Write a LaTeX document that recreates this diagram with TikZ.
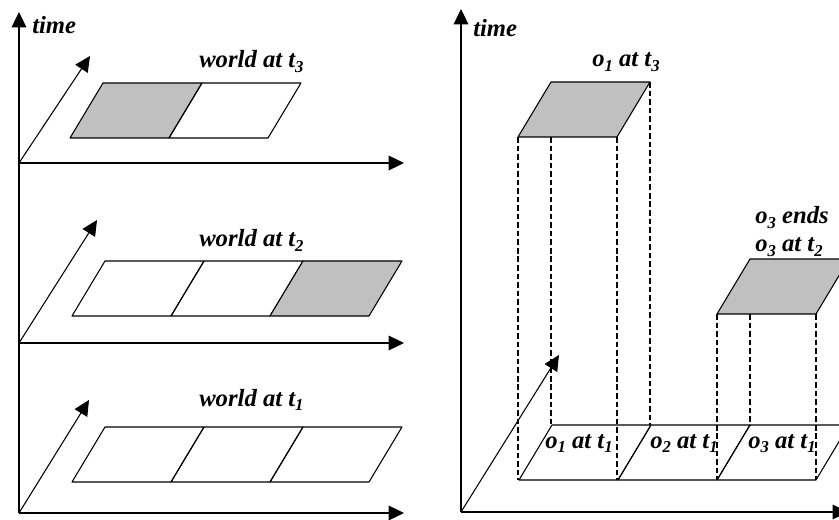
\documentclass[tikz,border=0pt]{standalone}
\usepackage{fontspec}
\setmainfont{Liberation Serif}
\usetikzlibrary{arrows.meta}
\definecolor{shadegray}{HTML}{C0C0C0}
% lowered subscript digit in text
\newcommand\sbs[1]{\raisebox{-0.2em}{\fontsize{12.5}{12.5}\selectfont #1}}
% one slanted cell: bottom-left corner x, bottom y, style
\newcommand\cellat[3]{\path[#3] (#1,#2) -- ++(99,0) -- ++(33,-55) -- ++(-99,0) -- cycle;}

\begin{document}
\begin{tikzpicture}[x=0.75pt,y=-0.75pt,
  axis/.style={line width=0.8pt,-{Triangle[length=11.5pt,width=11pt]}},
  edge/.style={draw,line width=0.8pt,line join=round},
  shade/.style={draw,line width=0.8pt,line join=round,fill=shadegray},
  hidden/.style={line width=1.5pt,dash pattern=on 4.2pt off 2.2pt},
  lbl/.style={inner sep=0pt,anchor=base west,font=\fontsize{18.5}{20}\selectfont\bfseries\itshape}]
\clip (0,0) rectangle (839,520);

% ---------- left: world snapshots ----------
\coordinate (lorig) at (19,513);
\coordinate (ltime) at (19,12);
\coordinate (o3) at (19,163);
\coordinate (o2) at (19,343);
\coordinate (o1) at (19,513);
\coordinate (x3) at (404,163);
\coordinate (x2) at (404,343);
\coordinate (x1) at (404,513);
\coordinate (d3) at (90,56);
\coordinate (d2) at (97,220);
\coordinate (d1) at (89,400);

\draw[axis] (lorig) -- (ltime);
\draw[axis] (o3) -- (x3);
\draw[axis] (o2) -- (x2);
\draw[axis] (o1) -- (x1);
\draw[axis] (o3) -- (d3);
\draw[axis] (o2) -- (d2);
\draw[axis] (o1) -- (d1);

\cellat{70}{138}{shade}
\cellat{169}{138}{edge}

\cellat{72}{316}{edge}
\cellat{171}{316}{edge}
\cellat{270}{316}{shade}

\cellat{72}{482}{edge}
\cellat{171}{482}{edge}
\cellat{270}{482}{edge}

\node[lbl] (ltimelbl) at (32,34) {time};
\node[lbl] (w3) at (199,68) {world at t\sbs{3}};
\node[lbl] (w2) at (199,247) {world at t\sbs{2}};
\node[lbl] (w1) at (199,406) {world at t\sbs{1}};

% ---------- right: object histories ----------
\coordinate (rorig) at (461,512);
\coordinate (rtime) at (461,9);
\coordinate (rx) at (848,512);
\coordinate (rd) at (559,355);

\draw[axis] (rorig) -- (rtime);
\draw[axis] (rorig) -- (rx);
\draw[axis] (rorig) -- (rd);

% projection lines from the later states down to t1
\draw[hidden] (518,137) -- (518,480);
\draw[hidden] (551,137) -- (551,425);
\draw[hidden] (617,137) -- (617,480);
\draw[hidden] (650,82) -- (650,425);
\draw[hidden] (717,314) -- (717,480);
\draw[hidden] (750,314) -- (750,425);
\draw[hidden] (816,314) -- (816,480);
\draw[hidden] (849,259) -- (849,425);

\cellat{519}{480}{edge}
\cellat{618}{480}{edge}
\cellat{717}{480}{edge}

\cellat{518}{137}{shade}
\cellat{717}{314}{shade}

\node[lbl] (rtimelbl) at (473,37) {time};
\node[lbl] (a13) at (592,67) {o\sbs{1} at t\sbs{3}};
\node[lbl] (a3e) at (755,224) {o\sbs{3} ends};
\node[lbl] (a32) at (755,252) {o\sbs{3} at t\sbs{2}};
\node[lbl] (a11) at (545,448) {o\sbs{1} at t\sbs{1}};
\node[lbl] (a21) at (650,448) {o\sbs{2} at t\sbs{1}};
\node[lbl] (a31) at (748,448) {o\sbs{3} at t\sbs{1}};
\end{tikzpicture}
\end{document}
